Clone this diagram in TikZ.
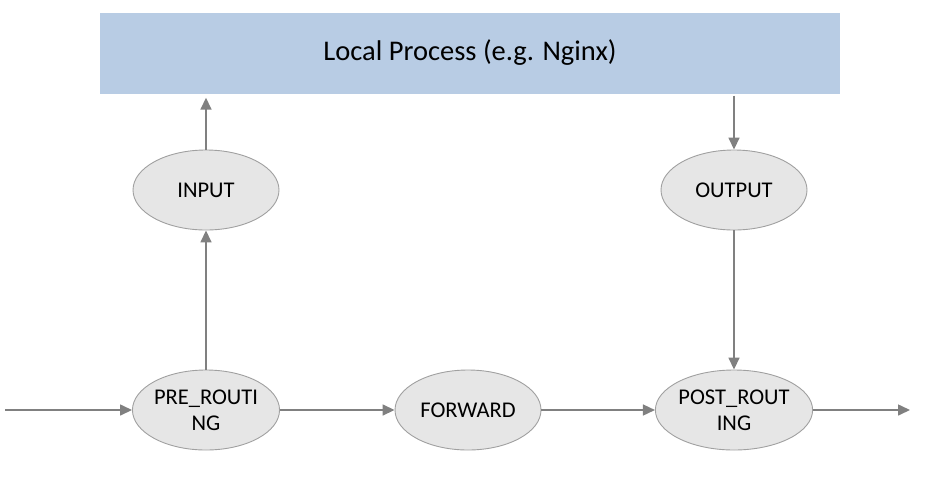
\documentclass[tikz,border=0pt]{standalone}
\usepackage{fontspec}
\setmainfont{Carlito}
\usetikzlibrary{shapes.geometric,arrows.meta}
\definecolor{procblue}{HTML}{B8CCE4}
\definecolor{ellfill}{HTML}{E6E6E6}
\definecolor{ellline}{HTML}{A0A0A0}
\definecolor{arrgray}{HTML}{808080}
\tikzset{
  hook/.style={ellipse, draw=ellline, fill=ellfill, line width=0.9pt,
    minimum width=146pt, minimum height=80pt, inner sep=0pt,
    align=center, font=\fontsize{22.5}{26}\selectfont, text=black},
  flow/.style={draw=arrgray, line width=1.6pt,
    -{Triangle[length=12pt,width=11pt]}},
}
\begin{document}
\begin{tikzpicture}[x=1pt,y=-1pt]
\useasboundingbox (0,0) rectangle (939,480);
\node[fill=procblue, minimum width=740pt, minimum height=81pt, inner sep=0pt,
  font=\fontsize{28.5}{30}\selectfont] (proc) at (470,53) {Local Process (e.g. Nginx)};
\node[hook] (input) at (206,190) {INPUT};
\node[hook] (output) at (734,190) {OUTPUT};
\node[hook] (pre) at (206,410) {PRE\_ROUTI\\NG};
\node[hook] (fwd) at (468,410) {FORWARD};
\node[hook] (post) at (734,410) {POST\_ROUT\\ING};
\coordinate (inl) at (5,410);
\coordinate (outr) at (910,410);
\draw[flow] (inl) -- (pre.west);
\draw[flow] (pre.east) -- (fwd.west);
\draw[flow] (fwd.east) -- (post.west);
\draw[flow] (post.east) -- (outr);
\draw[flow] (pre.north) -- (input.south);
\draw[flow] (input.north) -- ([yshift=-4pt]proc.south -| input.north);
\draw[flow] ([yshift=-2pt]proc.south -| output.north) -- (output.north);
\draw[flow] (output.south) -- (post.north);
\end{tikzpicture}
\end{document}
